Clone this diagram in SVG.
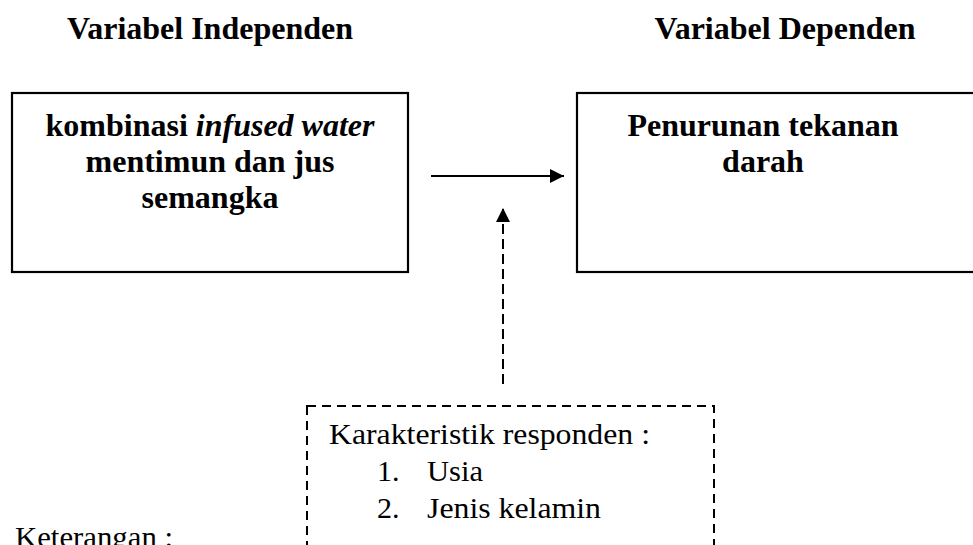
<svg xmlns="http://www.w3.org/2000/svg" width="973" height="545" viewBox="0 0 973 545">
<style>
  .b { font-family: "Liberation Serif", "Times New Roman", serif; font-weight: bold; font-size: 32px; fill: #000; text-anchor: middle; }
  .r { font-family: "Liberation Serif", "Times New Roman", serif; font-size: 30px; fill: #000; }
  .box { fill: none; stroke: #000; stroke-width: 2.2; }
  .dbox { fill: none; stroke: #000; stroke-width: 2; stroke-dasharray: 9 6; }
  .solid { stroke: #000; stroke-width: 2; fill: none; }
  .dash { stroke: #000; stroke-width: 2; fill: none; stroke-dasharray: 10 5; }
</style>
<defs>
  <marker id="ah" viewBox="0 0 10 10" refX="10" refY="5" markerWidth="7" markerHeight="7" orient="auto" markerUnits="strokeWidth">
    <path d="M0,0 L10,5 L0,10 Z" fill="#000"/>
  </marker>
</defs>
<rect width="973" height="545" fill="#fff"/>

<g id="heading-independen">
  <text class="b" x="210" y="39">Variabel Independen</text>
</g>
<g id="heading-dependen">
  <text class="b" x="785" y="39">Variabel Dependen</text>
</g>

<g id="node-independen">
  <rect class="box" x="12" y="93" width="396" height="179"/>
  <text class="b" x="210" y="136">kombinasi <tspan font-style="italic">infused water</tspan></text>
  <text class="b" x="210" y="172">mentimun dan jus</text>
  <text class="b" x="210" y="208">semangka</text>
</g>

<g id="node-dependen">
  <rect class="box" x="577" y="93" width="420" height="179"/>
  <text class="b" x="763" y="136">Penurunan tekanan</text>
  <text class="b" x="763" y="172">darah</text>
</g>

<g id="node-karakteristik">
  <rect class="dbox" x="307" y="406" width="407" height="160"/>
  <text class="r" x="329" y="444" textLength="321" lengthAdjust="spacingAndGlyphs">Karakteristik responden :</text>
  <text class="r" x="377" y="481">1.</text>
  <text class="r" x="427" y="481" textLength="56" lengthAdjust="spacingAndGlyphs">Usia</text>
  <text class="r" x="377" y="518">2.</text>
  <text class="r" x="427" y="518" textLength="174" lengthAdjust="spacingAndGlyphs">Jenis kelamin</text>
</g>

<g id="keterangan">
  <text class="r" x="15" y="547" textLength="158" lengthAdjust="spacingAndGlyphs">Keterangan :</text>
</g>

<g id="connectors">
  <line class="solid" x1="431" y1="176" x2="564" y2="176" marker-end="url(#ah)"/>
  <line class="dash" x1="503" y1="384" x2="503" y2="208" marker-end="url(#ah)"/>
</g>
</svg>
